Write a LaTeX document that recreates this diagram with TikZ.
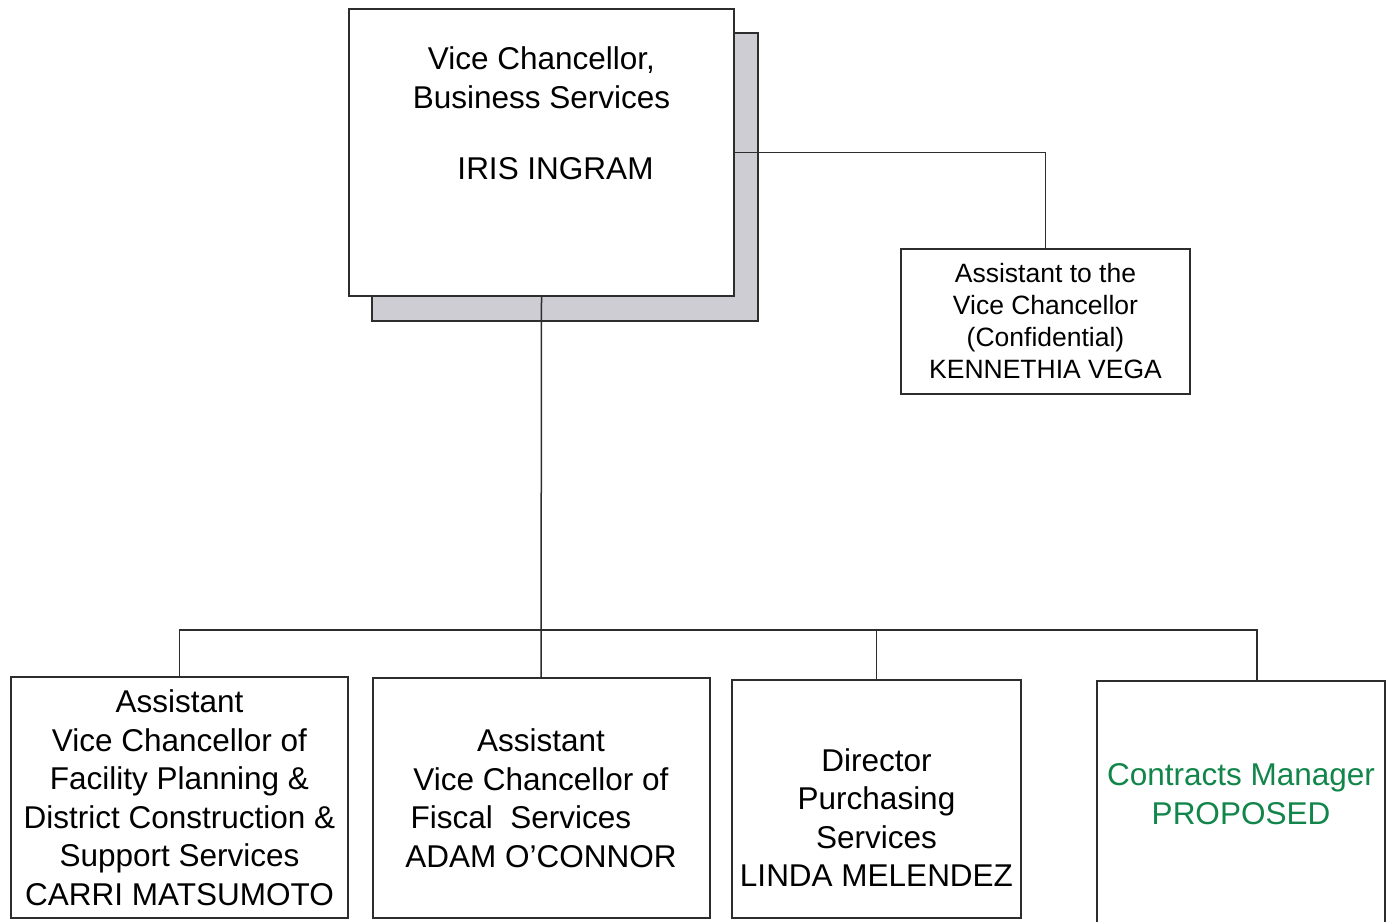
\documentclass[tikz,border=0pt]{standalone}
\usepackage{fontspec}
\setmainfont{Liberation Sans}
\usetikzlibrary{positioning}
\definecolor{ink}{RGB}{45,45,45}
\definecolor{shade}{RGB}{205,205,211}
\definecolor{proposed}{RGB}{18,134,74}

\begin{document}
\begin{tikzpicture}[x=1pt, y=-1pt, auto,
    post/.style={draw=ink, line width=2pt, fill=white, align=center, inner sep=0pt,
                 font=\fontsize{31.5}{38.5}\selectfont},
    link/.style={draw=ink, line width=1.5pt}]
\useasboundingbox (0,0) rectangle (1386,921);
\node(SH) [post, fill=shade, minimum width=386pt, minimum height=288pt] at (565,177) {};
\node(VC) [post, minimum width=385pt, minimum height=287pt] at (541.5,152.5)
    {Vice Chancellor,\\Business Services\\[33pt]\hspace*{28pt}IRIS INGRAM\rule[-78pt]{0pt}{0pt}};
\node(AT) [post, font=\fontsize{26.5}{32}\selectfont, minimum width=289pt, minimum height=145pt]
    at (1045.5,321.5) {Assistant to the\\Vice Chancellor\\(Confidential)\\KENNETHIA VEGA};
\node(FP) [post, minimum width=337pt, minimum height=241pt] at (179.5,797.5)
    {Assistant\\Vice Chancellor of\\Facility Planning \&\\District Construction \&\\Support Services\\CARRI MATSUMOTO};
\node(FS) [post, minimum width=337pt, minimum height=240pt] at (541,798)
    {Assistant\\Vice Chancellor of\\Fiscal\ \ Services\rule{40pt}{0pt}\\ADAM O'CONNOR};
\node(PS) [post, minimum width=289pt, minimum height=238pt] at (876.5,799)
    {\rule{0pt}{60pt}Director\\Purchasing\\Services\\LINDA MELENDEZ};
\node(CM) [post, text=proposed, minimum width=288pt, minimum height=242pt] at (1241,802)
    {Contracts Manager\\PROPOSED\rule[-16pt]{0pt}{0pt}};
\coordinate(bus) at (541,630);
\draw[link] (VC.east) -| (AT.north);
\draw[link] (VC.south) -- (FS.north);
\draw[link] (FP.north) |- (bus) -| ([xshift=16pt]CM.north);
\draw[link] (PS.north) -- (PS.north |- bus);
\end{tikzpicture}
\end{document}
